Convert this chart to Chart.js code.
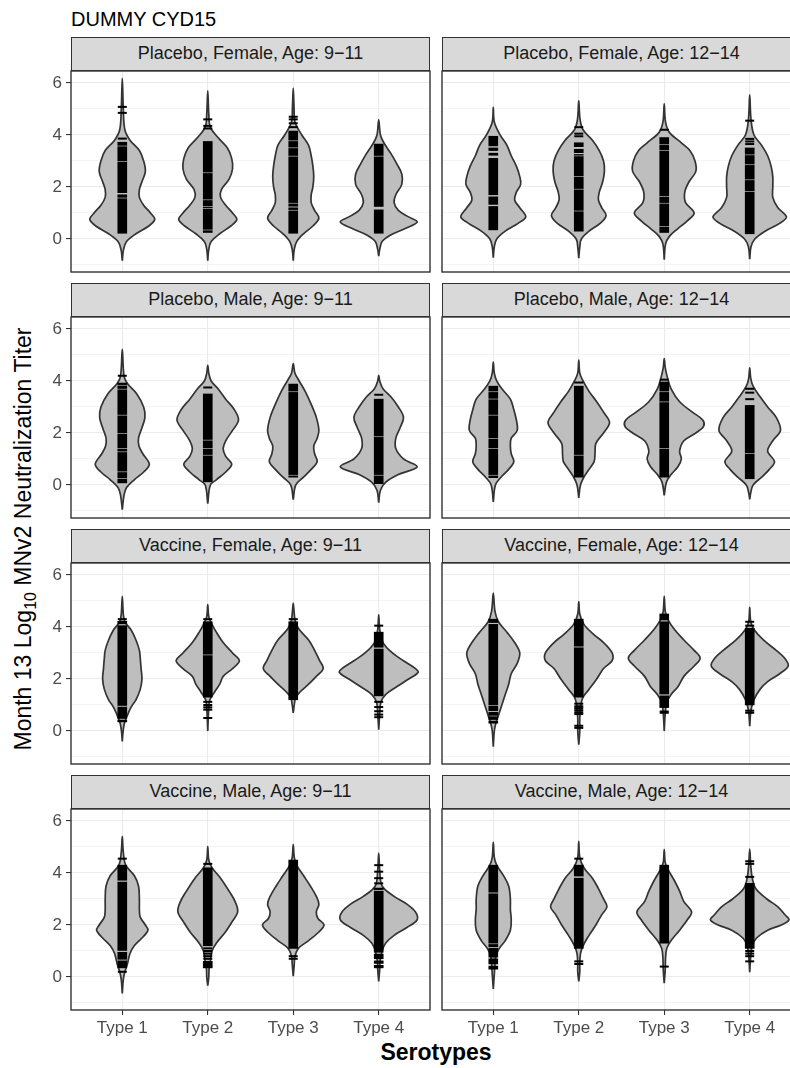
<!DOCTYPE html>
<html>
<head>
<meta charset="utf-8">
<script src="https://cdn.jsdelivr.net/npm/chart.js@4.4.1/dist/chart.umd.min.js"></script>
<style>
  html, body { margin: 0; padding: 0; background: #fff; width: 790px; height: 1068px; overflow: hidden; }
  #fig { position: relative; width: 790px; height: 1068px; overflow: hidden; font-family: 'Liberation Sans', Arial, sans-serif; }
  #fig canvas { position: absolute; }
  .strip { position: absolute; box-sizing: border-box; background: #D9D9D9; border: 1.4px solid #333; color: #1A1A1A;
           font-size: 18px; text-align: center; line-height: 31px; white-space: nowrap; overflow: hidden; }
  #title { position: absolute; left: 71px; top: 19px; transform: translateY(-50%); font-size: 20px; color: #000; }
  #ytitle { position: absolute; left: 23px; top: 539px; transform: translate(-50%, -50%) rotate(-90deg);
            font-size: 23px; color: #000; white-space: nowrap; }
  #ytitle sub { font-size: 16px; vertical-align: -5px; line-height: 0; }
  #xtitle { position: absolute; left: 436px; top: 1052px; transform: translate(-50%, -50%);
            font-size: 23px; font-weight: bold; color: #000; }
</style>
</head>
<body>
<div id="fig">
  <div id="title">DUMMY CYD15</div>
  <div id="ytitle">Month 13 Log<sub>10</sub> MNv2 Neutralization Titer</div>
  <div id="xtitle">Serotypes</div>
</div>
<script>
// serotypes on the x axis, log10 titer on the y axis
const categories = ['Type 1', 'Type 2', 'Type 3', 'Type 4'];
const yTicks = [0, 2, 4, 6];
const yMinor = [-1, 1, 3, 5];
const yLimits = [-1.27, 6.46];
const xLimits = [0.4, 4.6];

const panelTitles = [
  'Placebo, Female, Age: 9\u221211', 'Placebo, Female, Age: 12\u221214',
  'Placebo, Male, Age: 9\u221211',   'Placebo, Male, Age: 12\u221214',
  'Vaccine, Female, Age: 9\u221211', 'Vaccine, Female, Age: 12\u221214',
  'Vaccine, Male, Age: 9\u221211',   'Vaccine, Male, Age: 12\u221214'
];

// violin outlines: [titer, half width] from bottom tail to top tail, one per serotype
const violinsPlaceboF911 = [
  [[-0.83,0],[-0.4,0.015],[-0.1,0.05],[0.2,0.16],[0.5,0.31],[0.75,0.38],[1.0,0.33],[1.3,0.25],[1.6,0.2],[1.9,0.2],[2.2,0.23],[2.6,0.27],[3.0,0.25],[3.4,0.2],[3.8,0.09],[4.2,0.03],[5.0,0.012],[6.18,0]],
  [[-0.83,0],[-0.4,0.012],[-0.1,0.04],[0.2,0.14],[0.5,0.27],[0.75,0.34],[1.0,0.29],[1.3,0.21],[1.6,0.15],[1.9,0.16],[2.3,0.25],[2.7,0.29],[3.1,0.28],[3.5,0.23],[3.9,0.12],[4.3,0.03],[4.8,0.012],[5.7,0]],
  [[-0.83,0],[-0.4,0.012],[-0.1,0.04],[0.2,0.12],[0.5,0.23],[0.8,0.3],[1.1,0.25],[1.4,0.21],[1.7,0.21],[2.0,0.23],[2.4,0.24],[2.8,0.23],[3.2,0.21],[3.6,0.18],[4.0,0.1],[4.5,0.02],[5.0,0.01],[5.8,0]],
  [[-0.66,0],[-0.4,0.012],[-0.1,0.04],[0.15,0.14],[0.4,0.31],[0.65,0.45],[0.85,0.35],[1.1,0.23],[1.4,0.18],[1.7,0.2],[2.1,0.27],[2.5,0.27],[2.9,0.21],[3.3,0.14],[3.7,0.06],[4.0,0.02],[4.58,0]]
];
const violinsPlaceboF1214 = [
  [[-0.72,0],[-0.3,0.012],[0,0.04],[0.3,0.14],[0.6,0.29],[0.85,0.38],[1.2,0.31],[1.5,0.25],[1.8,0.27],[2.1,0.32],[2.4,0.31],[2.8,0.27],[3.2,0.21],[3.6,0.16],[4.0,0.08],[4.5,0.012],[5.06,0]],
  [[-0.74,0],[-0.3,0.012],[0,0.03],[0.3,0.12],[0.6,0.25],[0.9,0.32],[1.2,0.27],[1.5,0.23],[1.8,0.24],[2.2,0.28],[2.6,0.3],[3.0,0.29],[3.4,0.24],[3.8,0.16],[4.2,0.05],[4.6,0.015],[5.32,0]],
  [[-0.8,0],[-0.2,0.015],[0.1,0.06],[0.4,0.16],[0.7,0.27],[1.0,0.35],[1.4,0.25],[1.8,0.24],[2.2,0.29],[2.6,0.37],[3.0,0.36],[3.4,0.3],[3.7,0.2],[4.1,0.06],[4.5,0.015],[5.2,0]],
  [[-0.78,0],[-0.3,0.015],[0,0.06],[0.3,0.18],[0.6,0.35],[0.85,0.43],[1.2,0.33],[1.6,0.27],[2.0,0.27],[2.4,0.27],[2.8,0.25],[3.2,0.21],[3.6,0.14],[4.0,0.05],[4.6,0.015],[5.54,0]]
];
const violinsPlaceboM911 = [
  [[-0.95,0],[-0.4,0.02],[-0.1,0.05],[0.2,0.14],[0.5,0.25],[0.8,0.316],[1.2,0.24],[1.5,0.195],[1.8,0.19],[2.2,0.23],[2.6,0.265],[3.0,0.25],[3.5,0.17],[3.9,0.06],[4.2,0.02],[5.22,0]],
  [[-0.72,0],[0,0.03],[0.2,0.1],[0.5,0.21],[0.8,0.28],[1.1,0.21],[1.4,0.18],[1.7,0.21],[2.1,0.29],[2.5,0.36],[2.9,0.31],[3.3,0.21],[3.7,0.12],[4.0,0.04],[4.3,0.012],[4.6,0]],
  [[-0.56,0],[0,0.03],[0.3,0.12],[0.6,0.21],[0.9,0.28],[1.2,0.25],[1.5,0.24],[1.8,0.28],[2.1,0.3],[2.6,0.27],[3.1,0.21],[3.6,0.14],[4.0,0.07],[4.3,0.02],[4.67,0]],
  [[-0.68,0],[-0.2,0.02],[0.1,0.08],[0.4,0.23],[0.7,0.45],[1.0,0.29],[1.4,0.2],[1.8,0.2],[2.2,0.25],[2.6,0.29],[3.0,0.23],[3.4,0.14],[3.7,0.05],[4.0,0.012],[4.22,0]]
];
const violinsPlaceboM1214 = [
  [[-0.65,0],[0,0.025],[0.3,0.09],[0.6,0.18],[0.9,0.24],[1.2,0.21],[1.5,0.2],[1.8,0.21],[2.1,0.28],[2.5,0.27],[2.9,0.24],[3.3,0.2],[3.7,0.1],[4.0,0.04],[4.3,0.012],[4.73,0]],
  [[-0.5,0],[0,0.02],[0.3,0.06],[0.6,0.12],[0.9,0.18],[1.2,0.19],[1.6,0.2],[2.0,0.29],[2.4,0.36],[2.8,0.29],[3.2,0.21],[3.6,0.12],[4.0,0.05],[4.3,0.012],[4.8,0]],
  [[-0.4,0],[0.1,0.025],[0.4,0.08],[0.7,0.16],[1.0,0.2],[1.3,0.18],[1.7,0.23],[2.0,0.37],[2.25,0.46],[2.5,0.45],[2.8,0.33],[3.2,0.18],[3.7,0.08],[4.1,0.04],[4.5,0.012],[4.86,0]],
  [[-0.55,0],[-0.3,0.012],[0,0.04],[0.3,0.14],[0.6,0.23],[0.9,0.29],[1.3,0.21],[1.7,0.27],[2.1,0.36],[2.6,0.31],[3.0,0.21],[3.4,0.12],[3.8,0.04],[4.1,0.012],[4.5,0]]
];
const violinsVaccineF911 = [
  [[-0.4,0],[0,0.01],[0.3,0.025],[0.6,0.06],[0.9,0.1],[1.2,0.16],[1.6,0.21],[2.0,0.23],[2.4,0.22],[2.8,0.21],[3.1,0.2],[3.5,0.16],[3.9,0.1],[4.2,0.03],[4.5,0.012],[5.18,0]],
  [[0,0],[0.9,0.012],[1.2,0.025],[1.5,0.08],[1.8,0.14],[2.1,0.18],[2.4,0.29],[2.7,0.37],[3.0,0.29],[3.4,0.18],[3.8,0.1],[4.1,0.05],[4.4,0.012],[4.86,0]],
  [[0.7,0],[1.0,0.012],[1.3,0.03],[1.5,0.08],[1.8,0.18],[2.1,0.27],[2.4,0.35],[2.7,0.31],[3.1,0.25],[3.5,0.18],[3.9,0.07],[4.2,0.025],[4.5,0.012],[4.92,0]],
  [[0.05,0],[0.7,0.012],[1.1,0.025],[1.4,0.08],[1.7,0.21],[2.0,0.35],[2.25,0.46],[2.4,0.43],[2.7,0.29],[3.0,0.16],[3.4,0.05],[3.9,0.012],[4.47,0]]
];
const violinsVaccineF1214 = [
  [[-0.6,0],[0,0.012],[0.3,0.03],[0.6,0.06],[1.0,0.1],[1.4,0.14],[1.8,0.18],[2.2,0.21],[2.6,0.28],[3.0,0.31],[3.4,0.25],[3.8,0.16],[4.2,0.06],[4.6,0.02],[5.3,0]],
  [[-0.53,0],[0,0.012],[0.5,0.012],[1.0,0.025],[1.3,0.05],[1.6,0.12],[2.0,0.21],[2.4,0.29],[2.7,0.39],[3.0,0.39],[3.4,0.29],[3.7,0.18],[4.1,0.06],[4.5,0.012],[4.98,0]],
  [[0,0],[0.7,0.012],[1.1,0.03],[1.4,0.08],[1.7,0.16],[2.1,0.23],[2.5,0.35],[2.8,0.42],[3.1,0.35],[3.5,0.23],[3.9,0.12],[4.3,0.04],[4.6,0.012],[5.18,0]],
  [[0.18,0],[0.8,0.015],[1.2,0.05],[1.6,0.12],[1.9,0.21],[2.2,0.35],[2.5,0.45],[2.8,0.41],[3.1,0.31],[3.5,0.16],[3.9,0.05],[4.2,0.012],[4.75,0]]
];
const violinsVaccineM911 = [
  [[-0.63,0],[-0.1,0.012],[0.2,0.03],[0.5,0.06],[0.9,0.09],[1.2,0.14],[1.5,0.23],[1.8,0.3],[2.0,0.27],[2.3,0.21],[2.6,0.2],[3.0,0.2],[3.5,0.19],[3.9,0.14],[4.3,0.04],[4.8,0.012],[5.41,0]],
  [[-0.33,0],[0,0.012],[0.3,0.015],[0.6,0.03],[1.0,0.05],[1.3,0.1],[1.7,0.2],[2.1,0.28],[2.5,0.35],[2.9,0.32],[3.3,0.25],[3.8,0.15],[4.2,0.05],[4.5,0.012],[5.01,0]],
  [[0.03,0],[0.5,0.012],[0.8,0.02],[1.1,0.06],[1.4,0.18],[1.7,0.29],[2.0,0.36],[2.25,0.29],[2.5,0.27],[2.8,0.3],[3.1,0.27],[3.5,0.2],[3.9,0.12],[4.3,0.04],[4.6,0.012],[5.09,0]],
  [[-0.17,0],[0.3,0.012],[0.6,0.015],[1.0,0.04],[1.3,0.08],[1.6,0.18],[1.9,0.33],[2.2,0.45],[2.5,0.43],[2.8,0.33],[3.1,0.18],[3.5,0.04],[4.1,0.012],[4.76,0]]
];
const violinsVaccineM1214 = [
  [[-0.46,0],[0.1,0.012],[0.5,0.02],[0.8,0.03],[1.1,0.07],[1.4,0.14],[1.8,0.2],[2.2,0.21],[2.6,0.2],[3.0,0.2],[3.5,0.18],[3.9,0.12],[4.3,0.04],[4.6,0.012],[5.18,0]],
  [[-0.17,0],[0.2,0.012],[0.5,0.012],[0.9,0.02],[1.2,0.05],[1.6,0.12],[2.0,0.2],[2.4,0.27],[2.7,0.33],[3.0,0.29],[3.4,0.23],[3.8,0.16],[4.2,0.06],[4.6,0.012],[5.22,0]],
  [[-0.24,0],[0.3,0.012],[0.7,0.015],[1.1,0.03],[1.4,0.08],[1.8,0.18],[2.2,0.27],[2.5,0.32],[2.9,0.23],[3.3,0.18],[3.7,0.12],[4.1,0.05],[4.4,0.012],[4.9,0]],
  [[0.18,0],[0.8,0.012],[1.2,0.03],[1.5,0.08],[1.8,0.21],[2.0,0.37],[2.2,0.46],[2.4,0.41],[2.7,0.33],[3.0,0.2],[3.4,0.07],[3.8,0.03],[4.3,0.012],[4.92,0]]
];

// dense stretches of observations, [low, high] per serotype
const runsPlaceboF911 = [
  [[0.22,1.55],[1.6,1.7],[1.78,2.96],[3.01,3.55],[3.6,3.72]],
  [[0.25,0.32],[0.37,1.15],[1.2,1.22],[1.27,1.48],[1.53,2.52],[2.57,3.75]],
  [[0.22,1.08],[1.13,1.2],[1.26,1.35],[1.4,3.16],[3.21,3.48],[3.53,3.75],[3.8,4.15]],
  [[0.22,1.12],[1.25,3.16],[3.21,3.65]]
];
const runsPlaceboF1214 = [
  [[0.35,1.25],[1.33,1.62],[1.7,3.1],[3.22,3.3],[3.4,3.5],[3.58,3.95]],
  [[0.3,1.05],[1.1,1.89],[1.94,2.38],[2.43,3.17],[3.22,3.25],[3.32,3.45],[3.55,3.7]],
  [[0.25,0.45],[0.5,1.35],[1.4,1.61],[1.66,3.38],[3.43,3.6],[3.65,3.9]],
  [[0.2,1.8],[1.85,2.25],[2.3,2.83],[2.88,3.21],[3.26,3.5]]
];
const runsPlaceboM911 = [
  [[0.08,0.22],[0.27,0.48],[0.53,1.25],[1.3,1.38],[1.43,1.95],[2.0,2.66],[2.71,3.66],[3.71,3.81],[3.86,3.92]],
  [[0.12,1.12],[1.17,1.38],[1.43,1.7],[1.75,3.5]],
  [[0.3,0.35],[0.4,3.56],[3.61,3.88]],
  [[0.05,0.35],[0.4,1.83],[1.88,3.3]]
];
const runsPlaceboM1214 = [
  [[0.28,0.35],[0.4,1.38],[1.43,1.76],[1.81,2.66],[2.71,3.28],[3.33,3.56],[3.61,3.8]],
  [[0.3,1.12],[1.17,3.8]],
  [[0.3,1.38],[1.43,3.17],[3.22,3.56],[3.61,3.96]],
  [[0.24,1.18],[1.23,3.06]]
];
const runsVaccineF911 = [
  [[0.35,0.42],[0.48,0.92],[0.98,4.05],[4.12,4.22]],
  [[1.3,2.9],[2.95,4.2]],
  [[1.2,4.2]],
  [[1.35,3.15],[3.22,3.8]]
];
const runsVaccineF1214 = [
  [[0.3,0.38],[0.44,0.55],[0.6,0.72],[0.78,0.95],[1.0,4.1],[4.17,4.3]],
  [[1.3,3.2],[3.26,4.3]],
  [[0.9,1.35],[1.42,4.2],[4.27,4.5]],
  [[1.0,3.95]]
];
const runsVaccineM911 = [
  [[0.35,0.62],[0.68,0.95],[1.02,3.65],[3.72,4.3]],
  [[0.35,0.6],[1.2,4.2]],
  [[1.1,4.5]],
  [[0.35,0.45],[0.52,0.62],[0.7,0.88],[0.95,3.3],[3.36,3.42]]
];
const runsVaccineM1214 = [
  [[0.3,0.42],[0.5,0.7],[0.76,1.1],[1.16,1.25],[1.3,3.2],[3.26,4.3]],
  [[1.1,3.8],[3.88,4.3]],
  [[1.3,4.3]],
  [[1.1,3.6]]
];

// isolated observations per serotype
const dashesPlaceboF911  = [[3.86,4.85,5.08],[4.25,4.35,4.6],[4.3,4.45,4.6,4.7],[]];
const dashesPlaceboF1214 = [[],[3.95,4.05,4.3],[4.2],[3.65,3.75,3.85,4.55]];
const dashesPlaceboM911  = [[4.2],[3.75],[],[3.47]];
const dashesPlaceboM1214 = [[],[3.94],[4.05],[3.3,3.55,3.7]];
const dashesVaccineF911  = [[4.3],[0.5,0.82,0.91,1.0,1.12,4.3],[4.3],[0.53,0.63,0.76,0.92,1.12,4.05]];
const dashesVaccineF1214 = [[],[0.12,0.2,0.65,0.72,0.8,0.88,0.95,1.05],[0.7,0.75],[0.7,0.78,4.05,4.2]];
const dashesVaccineM911  = [[0.2,4.55],[0.7,0.8,0.9,1.0,1.1,4.35],[0.7,0.8],[3.6,3.8,4.05,4.3]];
const dashesVaccineM1214 = [[],[0.5,0.6,4.55],[0.4],[0.6,0.8,0.9,1.0,3.85,4.35,4.45]];

const panelViolins = [violinsPlaceboF911, violinsPlaceboF1214, violinsPlaceboM911, violinsPlaceboM1214,
                      violinsVaccineF911, violinsVaccineF1214, violinsVaccineM911, violinsVaccineM1214];
const panelRuns = [runsPlaceboF911, runsPlaceboF1214, runsPlaceboM911, runsPlaceboM1214,
                   runsVaccineF911, runsVaccineF1214, runsVaccineM911, runsVaccineM1214];
const panelDashes = [dashesPlaceboF911, dashesPlaceboF1214, dashesPlaceboM911, dashesPlaceboM1214,
                     dashesVaccineF911, dashesVaccineF1214, dashesVaccineM911, dashesVaccineM1214];

// facet grid geometry (px)
const PLOT_W = 359, PLOT_H = 201, STRIP_H = 34;
const colLeft = [71, 442];
const rowTop = [71, 317, 563, 809];
const FONT = "'Liberation Sans', Arial, sans-serif";

Chart.defaults.font.family = FONT;

// closed outline: up the right side, back down the left side
function violinOutline(center, profile) {
  const right = profile.map(([y, w]) => ({x: center + w, y}));
  const left = profile.slice().reverse().map(([y, w]) => ({x: center - w, y}));
  return right.concat(left.slice(1));
}

// keep the plot area exactly where the axis boxes say
function noScalePadding(s) {
  s.paddingTop = 0; s.paddingBottom = 0; s.paddingLeft = 0; s.paddingRight = 0;
}

const panelFrame = {
  id: 'panelFrame',
  afterDraw(chart) {
    const {ctx, chartArea: a} = chart;
    ctx.save();
    ctx.strokeStyle = '#333333';
    ctx.lineWidth = 1.4;
    ctx.strokeRect(a.left, a.top, a.right - a.left, a.bottom - a.top);
    ctx.restore();
  }
};

const fig = document.getElementById('fig');
const yAll = yMinor.concat(yTicks).sort((a, b) => a - b);

panelTitles.forEach((title, i) => {
  const row = Math.floor(i / 2), col = i % 2;
  const isLeft = col === 0, isBottom = row === rowTop.length - 1;
  const leftW = isLeft ? 71 : 2;
  const bottomH = isBottom ? 40 : 2;

  const strip = document.createElement('div');
  strip.className = 'strip';
  strip.textContent = title;
  Object.assign(strip.style, {left: colLeft[col] + 'px', top: (rowTop[row] - STRIP_H) + 'px',
    width: PLOT_W + 'px', height: STRIP_H + 'px'});
  fig.appendChild(strip);

  const canvas = document.createElement('canvas');
  canvas.width = leftW + PLOT_W + 2;
  canvas.height = 2 + PLOT_H + bottomH;
  canvas.style.left = (colLeft[col] - leftW) + 'px';
  canvas.style.top = (rowTop[row] - 2) + 'px';
  fig.appendChild(canvas);

  const datasets = [];
  panelViolins[i].forEach((profile, k) => datasets.push({
    data: violinOutline(k + 1, profile), showLine: true, fill: 'shape',
    backgroundColor: '#BEBEBE', borderColor: '#333333', borderWidth: 1.7,
    pointRadius: 0, tension: 0.35, order: 3
  }));
  panelRuns[i].forEach((runs, k) => datasets.push({
    type: 'bar', data: runs.map(r => ({x: k + 1, y: r})),
    backgroundColor: '#000000', borderWidth: 0, barThickness: 9, grouped: false, order: 2
  }));
  panelDashes[i].forEach((vals, k) => datasets.push({
    data: vals.map(v => ({x: k + 1, y: v})),
    pointStyle: 'line', pointRadius: 4.5, borderColor: '#000000', borderWidth: 2, order: 1
  }));

  new Chart(canvas, {
    type: 'scatter',
    data: {datasets},
    plugins: [panelFrame],
    options: {
      responsive: false, animation: false, events: [], devicePixelRatio: 1,
      layout: {autoPadding: false,
               padding: {left: isLeft ? 0 : 2, right: 2, top: 2, bottom: isBottom ? 0 : 2}},
      plugins: {legend: {display: false}, tooltip: {enabled: false}},
      scales: {
        x: {
          type: 'linear', min: xLimits[0], max: xLimits[1], offset: false,
          afterBuildTicks: s => { s.ticks = categories.map((c, k) => ({value: k + 1})); },
          afterFit: s => { s.height = isBottom ? bottomH : 0; noScalePadding(s); },
          border: {display: false},
          grid: {color: '#EBEBEB', lineWidth: 1.1, offset: false, drawTicks: isBottom, tickLength: 5,
                 tickColor: '#333333', tickWidth: 1.1},
          ticks: {display: isBottom, color: '#4D4D4D', font: {size: 17}, padding: 3,
                  maxRotation: 0, autoSkip: false,
                  callback: v => categories[Math.round(v) - 1]}
        },
        y: {
          type: 'linear', min: yLimits[0], max: yLimits[1],
          afterBuildTicks: s => { s.ticks = yAll.map(v => ({value: v})); },
          afterFit: s => { s.width = isLeft ? leftW : 0; noScalePadding(s); },
          border: {display: false},
          grid: {color: '#EBEBEB', drawTicks: isLeft, tickLength: 5,
                 lineWidth: c => yTicks.includes(c.tick.value) ? 1.1 : 0.55,
                 tickWidth: 1.1,
                 tickColor: c => yTicks.includes(c.tick.value) ? '#333333' : 'rgba(0,0,0,0)'},
          ticks: {display: isLeft, color: '#4D4D4D', font: {size: 17}, padding: 4,
                  autoSkip: false,
                  callback: v => yTicks.includes(v) ? String(v) : ''}
        }
      }
    }
  });
});
</script>
</body>
</html>
